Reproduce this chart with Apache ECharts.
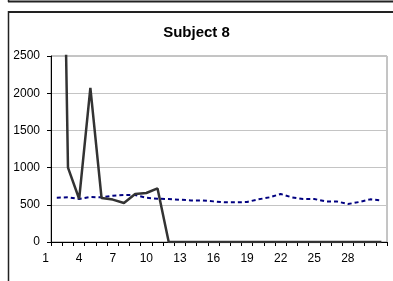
<!DOCTYPE html>
<html>
<head>
<meta charset="utf-8">
<script src="https://cdn.jsdelivr.net/npm/echarts@6/dist/echarts.min.js"></script>
<style>
html,body{margin:0;padding:0;background:#fff;}
#c{width:393px;height:281px;}
</style>
</head>
<body>
<div id="c"></div>
<script>
var categories = ['1','2','3','4','5','6','7','8','9','10','11','12','13','14','15','16','17','18','19','20','21','22','23','24','25','26','27','28','29','30','31'];
var seriesBlack = [null,10000,1000,578,2070,591,570,524,645,659,720,0,0,0,0,0,0,0,0,0,0,0,0,0,0,0,0,0,0,0,0];
var seriesBlue = [null,595,600,578,605,600,622,631,631,595,582,578,568,559,559,546,533,533,538,573,600,645,600,578,578,546,546,510,537,573,560];
var yTicks = [0,500,1000,1500,2000,2500];
var xTickLabels = ['1','4','7','10','13','16','19','22','25','28'];
var titleText = 'Subject 8';

var chart = echarts.init(document.getElementById('c'), null, {renderer:'canvas'});
var font = 'Liberation Sans, Arial, sans-serif';
chart.setOption({
  animation:false,
  backgroundColor:'#ffffff',
  title:{text:titleText,left:'center',top:25,padding:0,
    textStyle:{fontFamily:font,fontSize:15,fontWeight:'bold',color:'#000'}},
  grid:[
    {left:40,right:6,top:56,bottom:39,containLabel:false},
    {left:51,right:6,top:56,bottom:39,containLabel:false,show:true,borderColor:'#8a8a8a',borderWidth:1,backgroundColor:'transparent'}
  ],
  xAxis:[
    {gridIndex:0,type:'category',data:categories,boundaryGap:true,
      axisLine:{show:false},axisTick:{show:false},splitLine:{show:false},
      axisLabel:{interval:function(i,v){return xTickLabels.indexOf(v)>=0;},margin:11,fontFamily:font,fontSize:12,color:'#000'}},
    {gridIndex:1,type:'value',min:0,max:categories.length-1,interval:1,
      axisLine:{show:true,onZero:false,lineStyle:{color:'#000',width:1}},
      axisTick:{show:true,inside:false,length:4,lineStyle:{color:'#000'}},
      axisLabel:{show:false},splitLine:{show:false}}
  ],
  yAxis:[
    {gridIndex:0,type:'value',min:yTicks[0],max:yTicks[yTicks.length-1],show:false,splitLine:{show:false}},
    {gridIndex:1,type:'value',min:yTicks[0],max:yTicks[yTicks.length-1],interval:yTicks[1]-yTicks[0],
      axisLine:{show:true,onZero:false,lineStyle:{color:'#000',width:1}},
      axisTick:{show:true,inside:false,length:4,lineStyle:{color:'#000'}},
      axisLabel:{margin:11,fontFamily:font,fontSize:12,color:'#000',formatter:function(v){return String(v);}},
      splitLine:{show:true,lineStyle:{color:'#c4c4c4',width:1}}}
  ],
  series:[
    {type:'line',xAxisIndex:0,yAxisIndex:0,data:seriesBlue,symbol:'none',clip:true,
      lineStyle:{color:'#000080',width:2,type:[4,3]},z:3},
    {type:'line',xAxisIndex:0,yAxisIndex:0,data:seriesBlack,symbol:'none',clip:true,
      lineStyle:{color:'#333333',width:2.5},z:4}
  ],
  graphic:[
    {type:'line',shape:{x1:8,y1:1.5,x2:393,y2:1.5},style:{stroke:'#222',lineWidth:2},silent:true},
    {type:'line',shape:{x1:8.5,y1:0,x2:8.5,y2:2},style:{stroke:'#222',lineWidth:1.5},silent:true},
    {type:'line',shape:{x1:8,y1:12,x2:393,y2:12},style:{stroke:'#222',lineWidth:2},silent:true},
    {type:'line',shape:{x1:8.5,y1:11,x2:8.5,y2:281},style:{stroke:'#222',lineWidth:1.5},silent:true}
  ]
});
</script>
</body>
</html>
